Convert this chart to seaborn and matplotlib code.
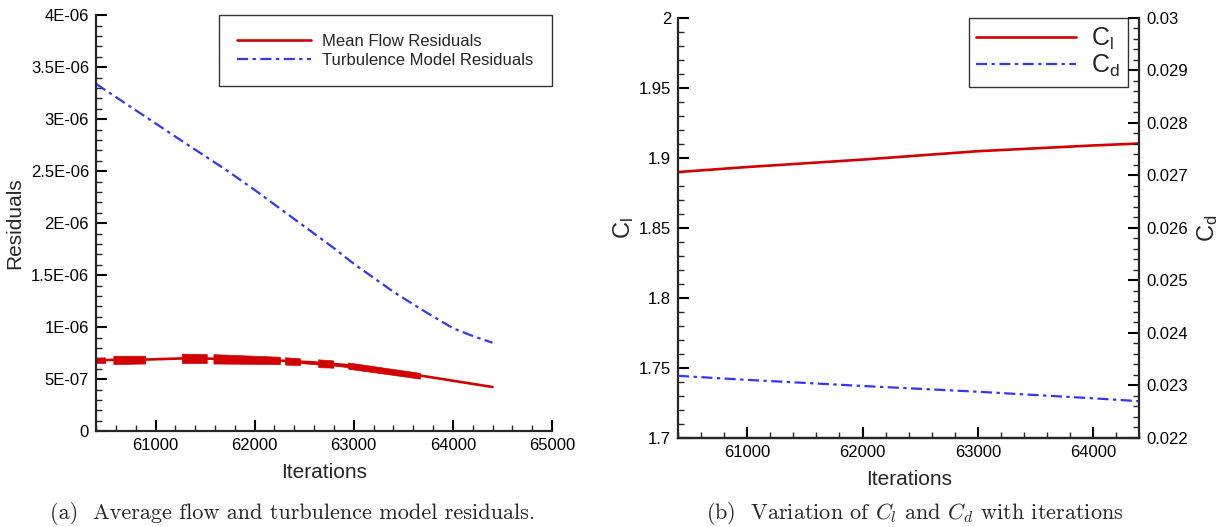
import numpy as np
import pandas as pd
import seaborn as sns
import matplotlib.pyplot as plt
from matplotlib.ticker import MultipleLocator, FixedLocator, FixedFormatter

## Data
# (a) residuals
turb_iter = [60400, 60700, 61000, 61300, 61700, 62000, 62300, 62500, 62800, 63000, 63400, 63700, 64000, 64200, 64400]
turb_res = [3.34e-06, 3.15e-06, 2.96e-06, 2.77e-06, 2.52e-06, 2.32e-06, 2.11e-06, 1.97e-06, 1.76e-06, 1.61e-06,
            1.34e-06, 1.16e-06, 0.99e-06, 0.915e-06, 0.85e-06]

mean_iter = [60400, 60600, 60900, 61300, 61600, 62000, 62300, 62600, 62900, 63200, 63500, 63700, 64400]
mean_res = [6.81e-07, 6.85e-07, 6.88e-07, 7.0e-07, 6.96e-07, 6.87e-07, 6.76e-07, 6.6e-07, 6.37e-07, 6.02e-07, 5.6e-07, 5.3e-07, 4.24e-07]

# oscillation bands on the mean flow residuals (start / end of each band)
band_start = [60400, 60575, 61265, 61584, 62306, 62457, 62642, 62793, 62944]
band_end = [60490, 60895, 61517, 62255, 62457, 62642, 62793, 62944, 63667]
band_low_start = [6.55e-07, 6.45e-07, 6.55e-07, 6.5e-07, 6.4e-07, 6.55e-07, 6.15e-07, 6.3e-07, 6.0e-07]
band_high_start = [7.05e-07, 7.25e-07, 7.45e-07, 7.4e-07, 7.1e-07, 6.75e-07, 6.9e-07, 6.5e-07, 6.6e-07]
band_low_end = [6.55e-07, 6.5e-07, 6.55e-07, 6.45e-07, 6.35e-07, 6.4e-07, 6.1e-07, 6.15e-07, 5.05e-07]
band_high_end = [7.1e-07, 7.25e-07, 7.4e-07, 7.15e-07, 7.0e-07, 6.6e-07, 6.8e-07, 6.35e-07, 5.6e-07]

res_yticks = [0, 5e-07, 1e-06, 1.5e-06, 2e-06, 2.5e-06, 3e-06, 3.5e-06, 4e-06]
res_ylabels = ['0', '5E-07', '1E-06', '1.5E-06', '2E-06', '2.5E-06', '3E-06', '3.5E-06', '4E-06']
res_xticks = [61000, 62000, 63000, 64000, 65000]

# (b) lift and drag
coef_iter = [60400, 61000, 62000, 63000, 64000, 64400]
cl = [1.8899, 1.8935, 1.8988, 1.9048, 1.9089, 1.9103]
cd = [0.023183, 0.023106, 0.02299, 0.02288, 0.022755, 0.0227]

cl_yticks = [1.7, 1.75, 1.8, 1.85, 1.9, 1.95, 2.0]
cl_ylabels = ['1.7', '1.75', '1.8', '1.85', '1.9', '1.95', '2']
cd_yticks = [0.022, 0.023, 0.024, 0.025, 0.026, 0.027, 0.028, 0.029, 0.03]
cd_ylabels = ['0.022', '0.023', '0.024', '0.025', '0.026', '0.027', '0.028', '0.029', '0.03']
coef_xticks = [61000, 62000, 63000, 64000]

red = '#d20000'
blue = '#3434ff'
dashdot = (0, (5, 2, 1.5, 2))

sns.set_style('ticks')
plt.rcParams['font.family'] = ['Liberation Sans', 'DejaVu Sans']
plt.rcParams['mathtext.default'] = 'regular'
plt.rcParams['mathtext.fontset'] = 'cm'
plt.rcParams['axes.linewidth'] = 1.6

fig = plt.figure(figsize=(12.25, 5.27), dpi=100)
ax1 = fig.add_axes([0.0784, 0.182, 0.3722, 0.789])
ax2 = fig.add_axes([0.5535, 0.169, 0.3765, 0.797])


def style_ticks(ax):
    ax.tick_params(which='major', direction='in', length=8, width=1.5, labelsize=12, pad=5, colors='black')
    ax.tick_params(which='minor', direction='in', length=4, width=1.0)


##Panel (a)
for i in range(len(band_start)):
    ax1.fill_between([band_start[i], band_end[i]], [band_low_start[i], band_low_end[i]],
                     [band_high_start[i], band_high_end[i]], color=red, lw=0.5)
sns.lineplot(x=mean_iter, y=mean_res, ax=ax1, color=red, lw=1.9, label='Mean Flow Residuals')
sns.lineplot(x=turb_iter, y=turb_res, ax=ax1, color=blue, lw=1.6, linestyle=dashdot,
             label='Turbulence Model Residuals')

ax1.set_xlim(60400, 65000)
ax1.set_ylim(0, 4e-06)
ax1.xaxis.set_major_locator(FixedLocator(res_xticks))
ax1.xaxis.set_minor_locator(MultipleLocator(200))
ax1.yaxis.set_major_locator(FixedLocator(res_yticks))
ax1.yaxis.set_major_formatter(FixedFormatter(res_ylabels))
ax1.yaxis.set_minor_locator(MultipleLocator(1e-07))
style_ticks(ax1)
sns.despine(ax=ax1)
ax1.set_xlabel('Iterations', fontsize=15, labelpad=7)
ax1.set_ylabel('Residuals', fontsize=15, labelpad=5)
leg = ax1.legend(loc='upper right', bbox_to_anchor=(1.0, 1.0), borderaxespad=0, fontsize=12,
                 frameon=True, fancybox=False, edgecolor='black', handlelength=4.4,
                 handletextpad=0.7, borderpad=1.1, labelspacing=0.25)
leg.get_frame().set_linewidth(1.0)

##Panel (b)
sns.lineplot(x=coef_iter, y=cl, ax=ax2, color=red, lw=1.9, label='$C_l$', legend=False)
ax3 = ax2.twinx()
sns.lineplot(x=coef_iter, y=cd, ax=ax3, color=blue, lw=1.6, linestyle=dashdot, label='$C_d$', legend=False)

ax2.set_xlim(60400, 64400)
ax2.set_ylim(1.7, 2.0)
ax3.set_ylim(0.022, 0.03)
ax2.xaxis.set_major_locator(FixedLocator(coef_xticks))
ax2.xaxis.set_minor_locator(MultipleLocator(200))
ax2.yaxis.set_major_locator(FixedLocator(cl_yticks))
ax2.yaxis.set_major_formatter(FixedFormatter(cl_ylabels))
ax2.yaxis.set_minor_locator(MultipleLocator(0.01))
ax3.yaxis.set_major_locator(FixedLocator(cd_yticks))
ax3.yaxis.set_major_formatter(FixedFormatter(cd_ylabels))
ax3.yaxis.set_minor_locator(MultipleLocator(0.0002))
style_ticks(ax2)
style_ticks(ax3)
for a in (ax2, ax3):
    a.spines['top'].set_visible(False)
ax3.spines['left'].set_visible(False)
ax2.spines['right'].set_visible(False)
ax2.set_xlabel('Iterations', fontsize=15, labelpad=7)
ax2.set_ylabel('$C_l$', fontsize=17, labelpad=2)
ax3.set_ylabel('$C_d$', fontsize=17, labelpad=5)

handles = ax2.get_lines() + ax3.get_lines()
leg2 = ax3.legend(handles, ['$C_l$', '$C_d$'], loc='upper right', bbox_to_anchor=(0.975, 1.0),
                  borderaxespad=0, fontsize=18, frameon=True, fancybox=False, edgecolor='black',
                  handlelength=4.0, handletextpad=0.6, borderpad=0.3, labelspacing=0.05)
leg2.get_frame().set_linewidth(1.0)

##Captions
fig.text(0.239, 0.016, '(a)  Average flow and turbulence model residuals.', ha='center',
         fontsize=16, family='cmr10')
fig.text(0.747, 0.016, r'(b)  Variation of $\mathit{C_l}$ and $\mathit{C_d}$ with iterations', ha='center',
         fontsize=16, family='cmr10')

fig.savefig('out.png', dpi=100)
